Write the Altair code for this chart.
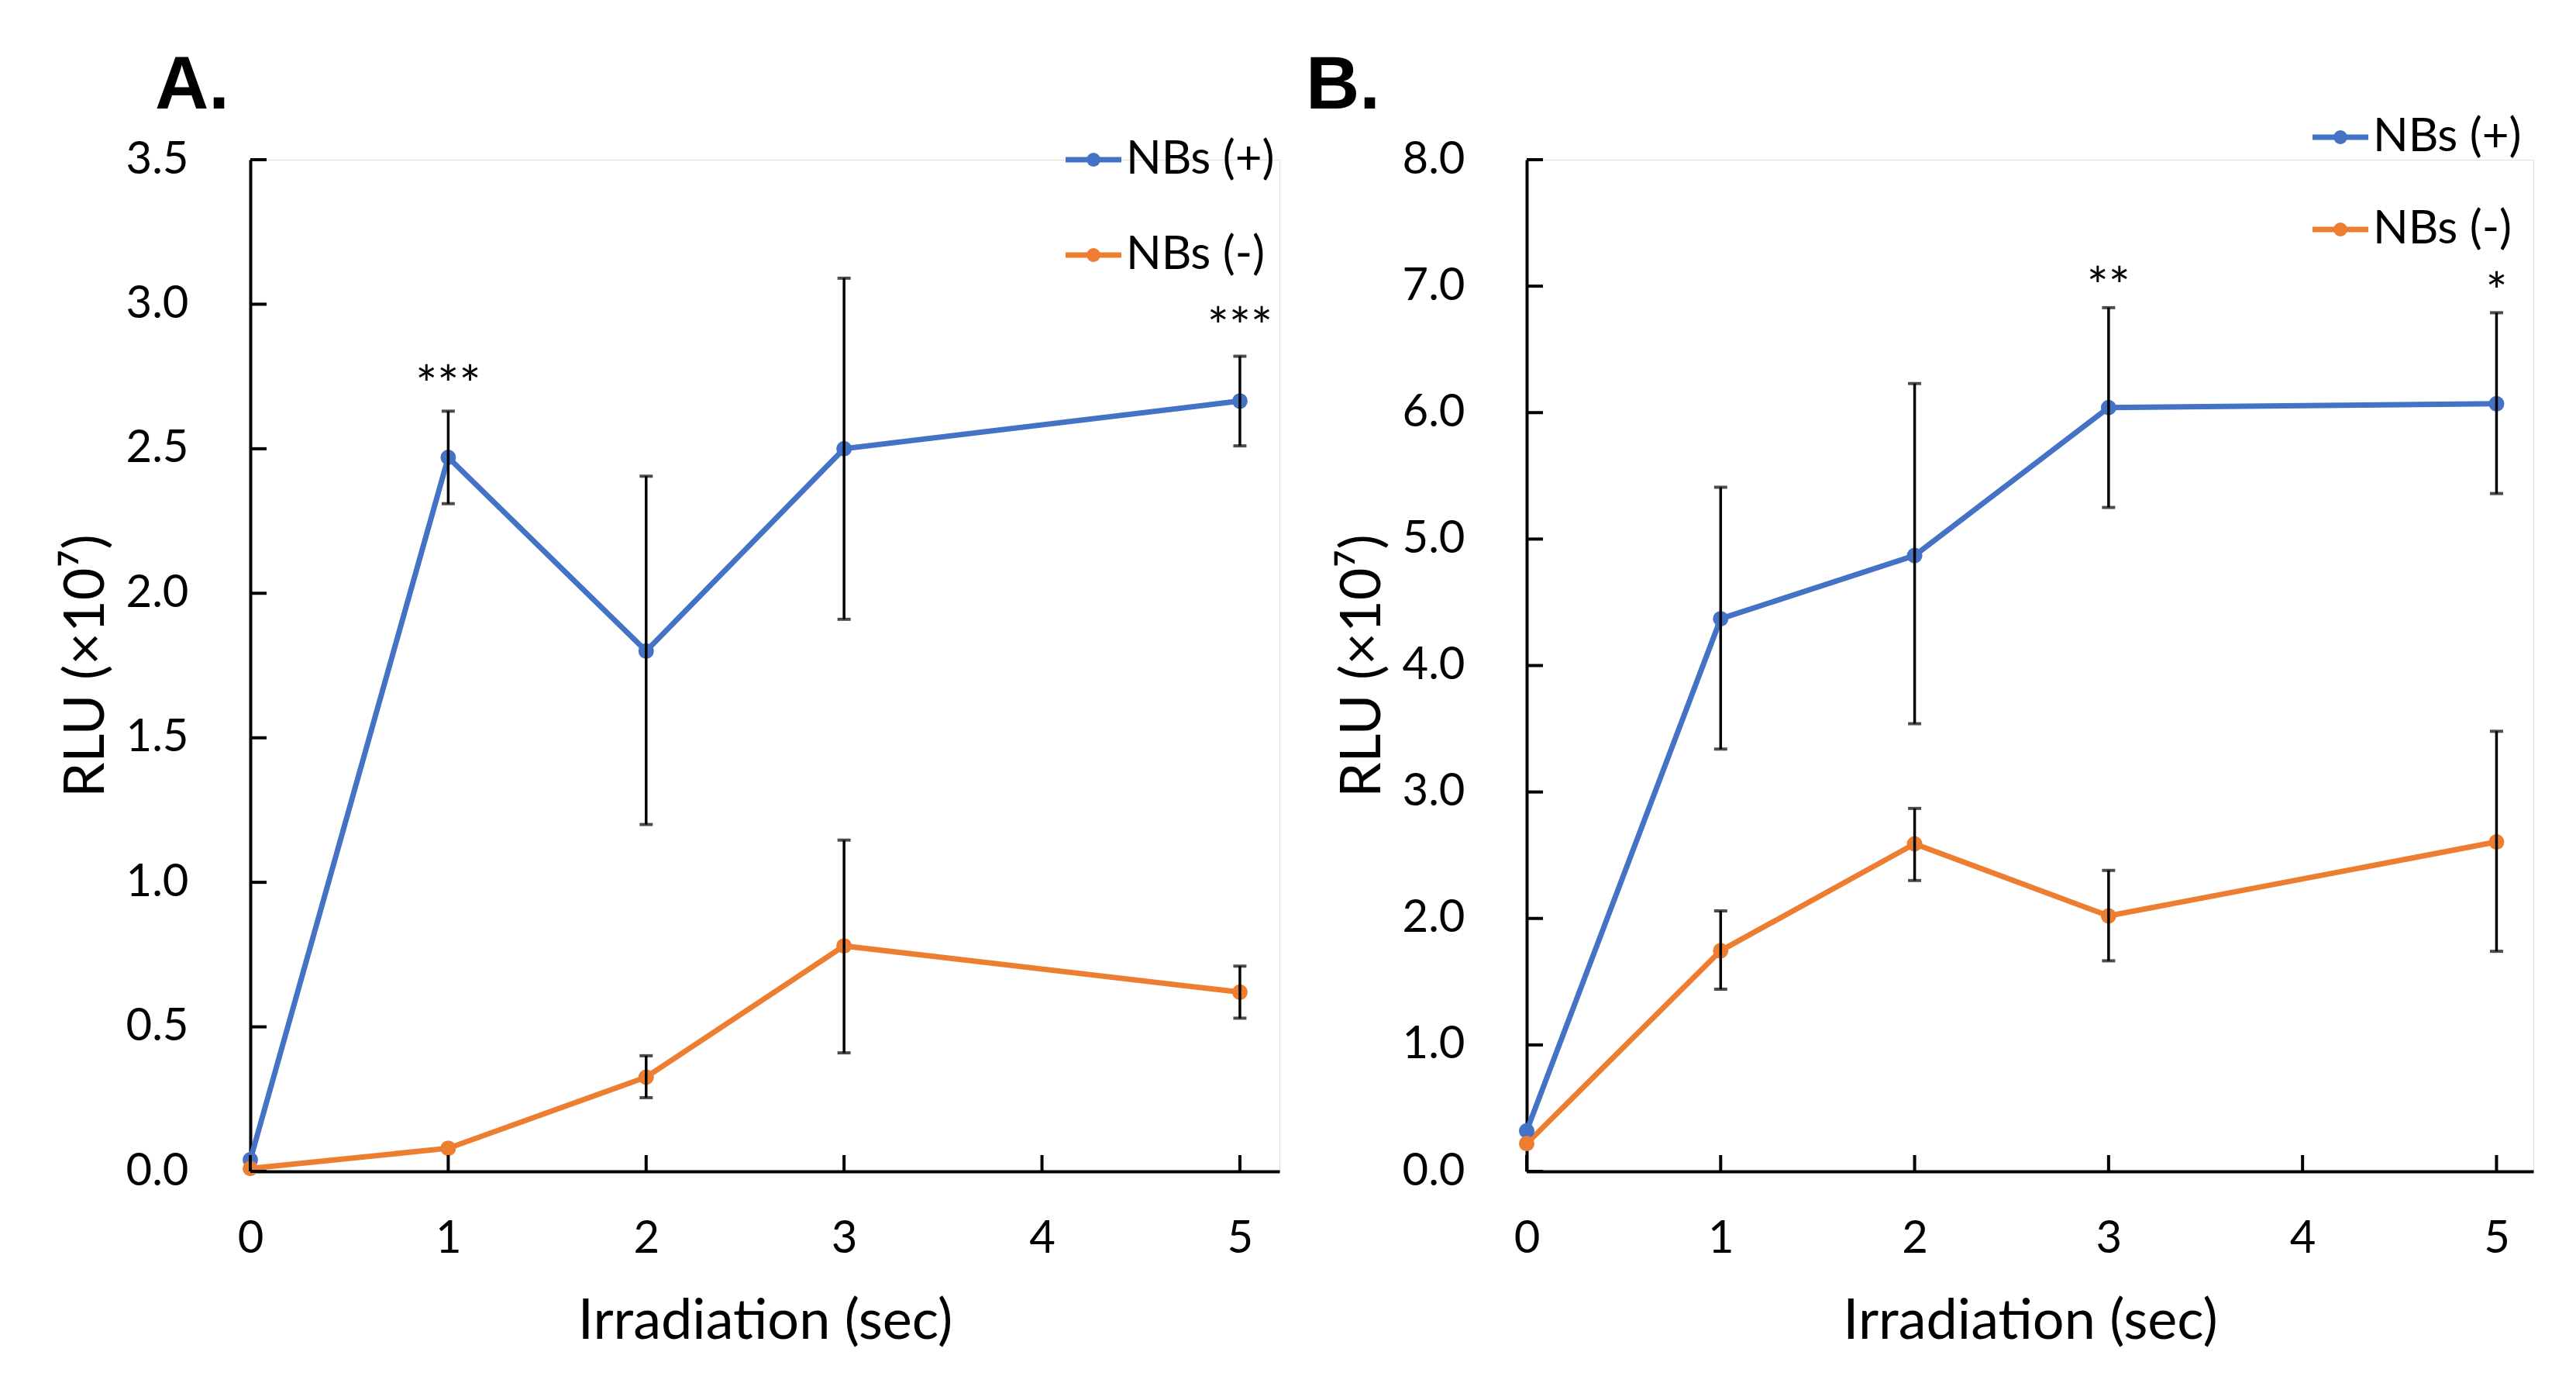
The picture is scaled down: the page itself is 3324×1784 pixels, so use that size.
import altair as alt
import pandas as pd

# ---------------- data ----------------
x_vals = [0, 1, 2, 3, 5]
series_names = ["NBs (+)", "NBs (-)"]
series_colors = ["#4472C4", "#ED7D31"]

# Panel A
a_pos = [0.04, 2.47, 1.80, 2.50, 2.665]
a_pos_lo = [None, 2.31, 1.20, 1.91, 2.51]
a_pos_hi = [None, 2.63, 2.405, 3.09, 2.82]
a_neg = [0.01, 0.08, 0.326, 0.78, 0.62]
a_neg_lo = [None, None, 0.255, 0.41, 0.53]
a_neg_hi = [None, None, 0.40, 1.146, 0.71]
a_star_x = [1, 5]
a_star_y = [2.75, 2.95]
a_star_text = ["***", "***"]
a_yticks = [0.0, 0.5, 1.0, 1.5, 2.0, 2.5, 3.0, 3.5]

# Panel B
b_pos = [0.32, 4.37, 4.87, 6.04, 6.07]
b_pos_lo = [None, 3.34, 3.54, 5.25, 5.36]
b_pos_hi = [None, 5.41, 6.23, 6.83, 6.79]
b_neg = [0.22, 1.745, 2.59, 2.02, 2.605]
b_neg_lo = [None, 1.44, 2.30, 1.665, 1.74]
b_neg_hi = [None, 2.06, 2.87, 2.38, 3.48]
b_star_x = [3, 5]
b_star_y = [7.06, 7.02]
b_star_text = ["**", "*"]
b_yticks = [0.0, 1.0, 2.0, 3.0, 4.0, 5.0, 6.0, 7.0, 8.0]

x_ticks = [0, 1, 2, 3, 4, 5]

FONT = "Lato"
H = 1305


def panel(pos, pos_lo, pos_hi, neg, neg_lo, neg_hi, star_x, star_y, star_text,
          yticks, ymax, xmax, width, label, label_x, leg_x, leg_y):
    rows = []
    for name, vals, los, his in [(series_names[0], pos, pos_lo, pos_hi),
                                 (series_names[1], neg, neg_lo, neg_hi)]:
        for x, v, lo, hi in zip(x_vals, vals, los, his):
            rows.append({"x": x, "y": v, "lo": lo, "hi": hi, "series": name})
    df = pd.DataFrame(rows)
    df_err = df.dropna(subset=["lo"])

    xs = alt.Scale(domain=[0, xmax], nice=False, zero=True)
    ys = alt.Scale(domain=[0, ymax], nice=False, zero=True)
    color = alt.Color("series:N", scale=alt.Scale(domain=series_names, range=series_colors), legend=None)

    xaxis = alt.Axis(values=x_ticks, format="d", tickSize=0, labelPadding=58, labelFontSize=58,
                     labelFont=FONT, labelColor="black", labelFlush=False, labelOverlap=False,
                     title="Irradiation (sec)", titleFont=FONT, titleFontSize=72,
                     titleFontWeight="normal", titleColor="black", titlePadding=42,
                     domainColor="black", domainWidth=4, grid=False)
    yaxis = alt.Axis(values=yticks, format=".1f", tickSize=0, labelPadding=80, labelFontSize=58,
                     labelFont=FONT, labelColor="black", labelOverlap=False,
                     title="RLU (×10⁷)", titleFont=FONT, titleFontSize=72,
                     titleFontWeight="normal", titleColor="black", titlePadding=14,
                     domainColor="black", domainWidth=4, grid=False)

    line = alt.Chart(df).mark_line(strokeWidth=7).encode(
        x=alt.X("x:Q", scale=xs, axis=xaxis),
        y=alt.Y("y:Q", scale=ys, axis=yaxis),
        color=color,
        detail="series:N",
    )
    pts = alt.Chart(df).mark_circle(size=400, opacity=1).encode(
        x=alt.X("x:Q", scale=xs), y=alt.Y("y:Q", scale=ys), color=color)
    err = alt.Chart(df_err).mark_rule(strokeWidth=3.5, color="black").encode(
        x=alt.X("x:Q", scale=xs), y=alt.Y("lo:Q", scale=ys), y2="hi:Q")
    cap_lo = alt.Chart(df_err).mark_tick(orient="horizontal", size=17, thickness=4, color="black").encode(
        x=alt.X("x:Q", scale=xs), y=alt.Y("lo:Q", scale=ys))
    cap_hi = alt.Chart(df_err).mark_tick(orient="horizontal", size=17, thickness=4, color="black").encode(
        x=alt.X("x:Q", scale=xs), y=alt.Y("hi:Q", scale=ys))

    ytick_df = pd.DataFrame({"y": yticks})
    ytk = alt.Chart(ytick_df).mark_rule(strokeWidth=4, color="black").encode(
        y=alt.Y("y:Q", scale=ys), x=alt.value(0), x2=alt.value(21))
    xtick_df = pd.DataFrame({"x": x_ticks})
    xtk = alt.Chart(xtick_df).mark_rule(strokeWidth=4, color="black").encode(
        x=alt.X("x:Q", scale=xs), y=alt.value(H), y2=alt.value(H - 21))

    star_df = pd.DataFrame({"x": star_x, "y": star_y, "t": star_text})
    stars = alt.Chart(star_df).mark_text(fontSize=66, font=FONT, color="black", baseline="middle", dy=14).encode(
        x=alt.X("x:Q", scale=xs), y=alt.Y("y:Q", scale=ys), text="t:N")

    lab = alt.Chart(pd.DataFrame({"t": [label]})).mark_text(
        fontSize=96, font="Liberation Sans", fontWeight="bold", align="left",
        baseline="alphabetic", color="black").encode(
        x=alt.value(label_x), y=alt.value(-66), text="t:N")

    layers = [line, pts, err, cap_lo, cap_hi, ytk, xtk, stars, lab]
    for i, (name, col) in enumerate(zip(series_names, series_colors)):
        ly = leg_y[i]
        ldf = pd.DataFrame({"t": [name]})
        layers.append(alt.Chart(ldf).mark_rule(strokeWidth=7, color=col).encode(
            x=alt.value(leg_x), x2=alt.value(leg_x + 72), y=alt.value(ly)))
        layers.append(alt.Chart(ldf).mark_circle(size=320, opacity=1, color=col).encode(
            x=alt.value(leg_x + 36), y=alt.value(ly)))
        layers.append(alt.Chart(ldf).mark_text(fontSize=60, font=FONT, align="left",
                                               baseline="middle", color="black").encode(
            x=alt.value(leg_x + 78), y=alt.value(ly), text="t:N"))

    return alt.layer(*layers).properties(width=width, height=H)


pa = panel(a_pos, a_pos_lo, a_pos_hi, a_neg, a_neg_lo, a_neg_hi, a_star_x, a_star_y, a_star_text,
           a_yticks, 3.5, 5.2, 1328, "A.", -123, 1052, [0, 123])
pb = panel(b_pos, b_pos_lo, b_pos_hi, b_neg, b_neg_lo, b_neg_hi, b_star_x, b_star_y, b_star_text,
           b_yticks, 8.0, 5.19, 1299, "B.", -285, 1014, [-29, 90])

chart = alt.hconcat(pa, pb, spacing=32).properties(
    padding={"left": 66, "top": 54, "right": 10, "bottom": 10}
).configure_view(stroke=None).configure(background="white")

chart.save("out.html", embed_options={"renderer": "svg", "actions": False})
